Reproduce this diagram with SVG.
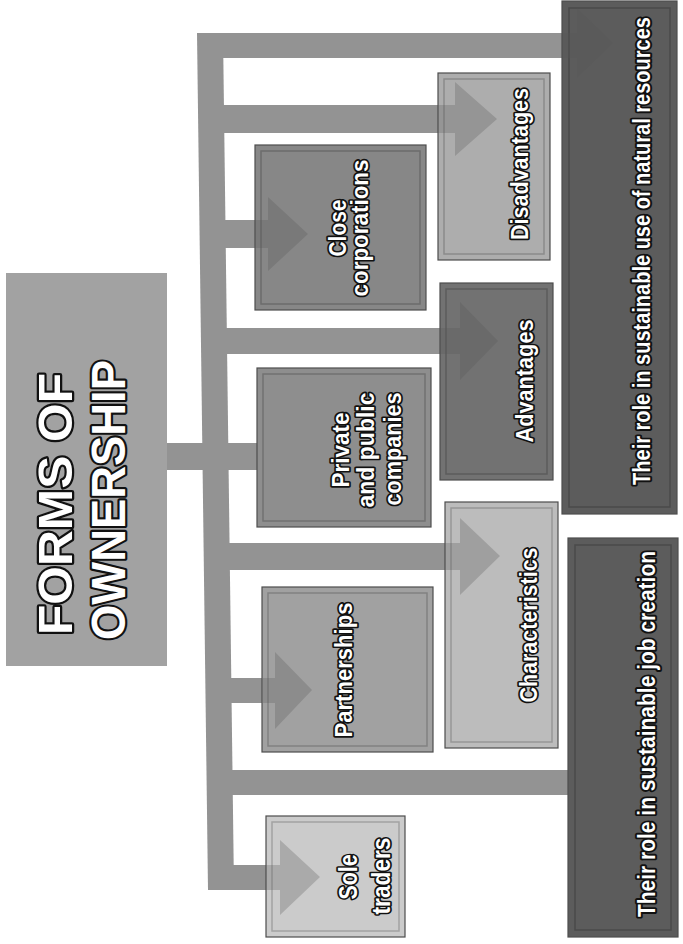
<svg xmlns="http://www.w3.org/2000/svg" width="683" height="944" viewBox="0 0 683 944">
<defs>
<style>
.bar{fill:#939393}
.box{stroke:#4d4d4d;stroke-width:1.2}
.inner{fill:none;stroke:#000;stroke-opacity:.2;stroke-width:1.5}
.head{fill:#555;fill-opacity:.28}
.t{font-family:"Liberation Sans",Arial,sans-serif;font-weight:bold;fill:#fff;stroke:#111;stroke-width:3.6;paint-order:stroke;stroke-linejoin:round;text-anchor:middle}
.ttl{font-family:"Liberation Sans",Arial,sans-serif;font-weight:bold;font-size:48px;fill:#fff;stroke:#111;stroke-width:4.5;paint-order:stroke;stroke-linejoin:round;text-anchor:middle}
</style>
</defs>
<rect width="683" height="944" fill="#fff"/>

<g id="connectors">
  <polygon class="bar" points="197,33 223,33 234,890 208,890"/>
  <rect class="bar" x="200" y="33" width="362" height="25"/>
  <rect class="bar" x="200" y="105" width="238" height="28"/>
  <rect class="bar" x="204" y="220" width="51" height="28"/>
  <rect class="bar" x="205" y="328" width="235" height="26"/>
  <rect class="bar" x="167" y="443" width="90" height="27"/>
  <rect class="bar" x="206" y="543" width="239" height="27"/>
  <rect class="bar" x="207" y="678" width="56" height="25"/>
  <rect class="bar" x="207" y="770" width="361" height="25"/>
  <rect class="bar" x="208" y="865" width="58" height="25"/>
</g>

<g id="title">
  <rect x="6" y="273" width="161" height="393" fill="#a2a2a2"/>
  <text class="ttl" transform="translate(72,504) rotate(-90)" textLength="262" lengthAdjust="spacingAndGlyphs">FORMS OF</text>
  <text class="ttl" transform="translate(125,500) rotate(-90)" textLength="280" lengthAdjust="spacingAndGlyphs">OWNERSHIP</text>
</g>

<g id="close-corporations">
  <rect class="box" x="255" y="145" width="171" height="165" fill="#878787"/>
  <rect class="inner" x="261" y="151" width="159" height="153"/>
  <text class="t" font-size="24" transform="translate(346,228) rotate(-90)" textLength="57" lengthAdjust="spacingAndGlyphs">Close</text>
  <text class="t" font-size="24" transform="translate(368,228) rotate(-90)" textLength="137" lengthAdjust="spacingAndGlyphs">corporations</text>
</g>

<g id="private-public">
  <rect class="box" x="257" y="368" width="174" height="159" fill="#8e8e8e"/>
  <rect class="inner" x="263" y="374" width="162" height="147"/>
  <text class="t" font-size="24" transform="translate(349,450) rotate(-90)" textLength="75" lengthAdjust="spacingAndGlyphs">Private</text>
  <text class="t" font-size="24" transform="translate(374,450) rotate(-90)" textLength="115" lengthAdjust="spacingAndGlyphs">and public</text>
  <text class="t" font-size="24" transform="translate(401,449) rotate(-90)" textLength="113" lengthAdjust="spacingAndGlyphs">companies</text>
</g>

<g id="partnerships">
  <rect class="box" x="262" y="587" width="171" height="165" fill="#a1a1a1"/>
  <rect class="inner" x="268" y="593" width="159" height="153"/>
  <text class="t" font-size="24" transform="translate(352,670) rotate(-90)" textLength="135" lengthAdjust="spacingAndGlyphs">Partnerships</text>
</g>

<g id="sole-traders">
  <rect class="box" x="266" y="816" width="139" height="121" fill="#cbcbcb"/>
  <rect class="inner" x="272" y="822" width="127" height="109"/>
  <text class="t" font-size="26" transform="translate(357,877) rotate(-90)" textLength="45" lengthAdjust="spacingAndGlyphs">Sole</text>
  <text class="t" font-size="26" transform="translate(390,876) rotate(-90)" textLength="77" lengthAdjust="spacingAndGlyphs">traders</text>
</g>

<g id="disadvantages">
  <rect class="box" x="438" y="73" width="112" height="187" fill="#adadad"/>
  <rect class="inner" x="444" y="79" width="100" height="175"/>
  <text class="t" font-size="24" transform="translate(528,164) rotate(-90)" textLength="152" lengthAdjust="spacingAndGlyphs">Disadvantages</text>
</g>

<g id="advantages">
  <rect class="box" x="440" y="283" width="113" height="197" fill="#727272"/>
  <rect class="inner" x="446" y="289" width="101" height="185"/>
  <text class="t" font-size="24" transform="translate(533,381) rotate(-90)" textLength="123" lengthAdjust="spacingAndGlyphs">Advantages</text>
</g>

<g id="characteristics">
  <rect class="box" x="445" y="502" width="113" height="246" fill="#bcbcbc"/>
  <rect class="inner" x="451" y="508" width="101" height="234"/>
  <text class="t" font-size="24" transform="translate(537,625) rotate(-90)" textLength="155" lengthAdjust="spacingAndGlyphs">Characteristics</text>
</g>

<g id="natural-resources">
  <rect class="box" x="562" y="1" width="115" height="513" fill="#5c5c5c"/>
  <rect class="inner" x="569" y="8" width="101" height="499" stroke-opacity=".35"/>
  <text class="t" font-size="20" transform="translate(650,251) rotate(-90) scale(1,1.15)">Their role in sustainable use of natural resources</text>
</g>

<g id="job-creation">
  <rect class="box" x="568" y="538" width="110" height="399" fill="#5c5c5c"/>
  <rect class="inner" x="575" y="545" width="96" height="385" stroke-opacity=".35"/>
  <text class="t" font-size="21" transform="translate(655,734) rotate(-90) scale(1,1.12)">Their role in sustainable job creation</text>
</g>

<g id="arrowheads">
  <polygon class="head" points="562,33 577,33 577,8 613,43 577,78 577,58 562,58"/>
  <polygon class="head" points="438,105 455,105 455,82 497,119 455,156 455,133 438,133"/>
  <polygon class="head" points="255,220 268,220 268,197 308,234 268,271 268,248 255,248"/>
  <polygon class="head" points="440,328 460,328 460,302 498,341 460,380 460,354 440,354"/>
  <polygon class="head" points="445,543 460,543 460,518 500,556 460,595 460,570 445,570"/>
  <polygon class="head" points="263,678 275,678 275,652 312,690 275,729 275,703 263,703"/>
  <polygon class="head" points="266,865 280,865 280,840 320,877 280,915 280,890 266,890"/>
</g>
</svg>
